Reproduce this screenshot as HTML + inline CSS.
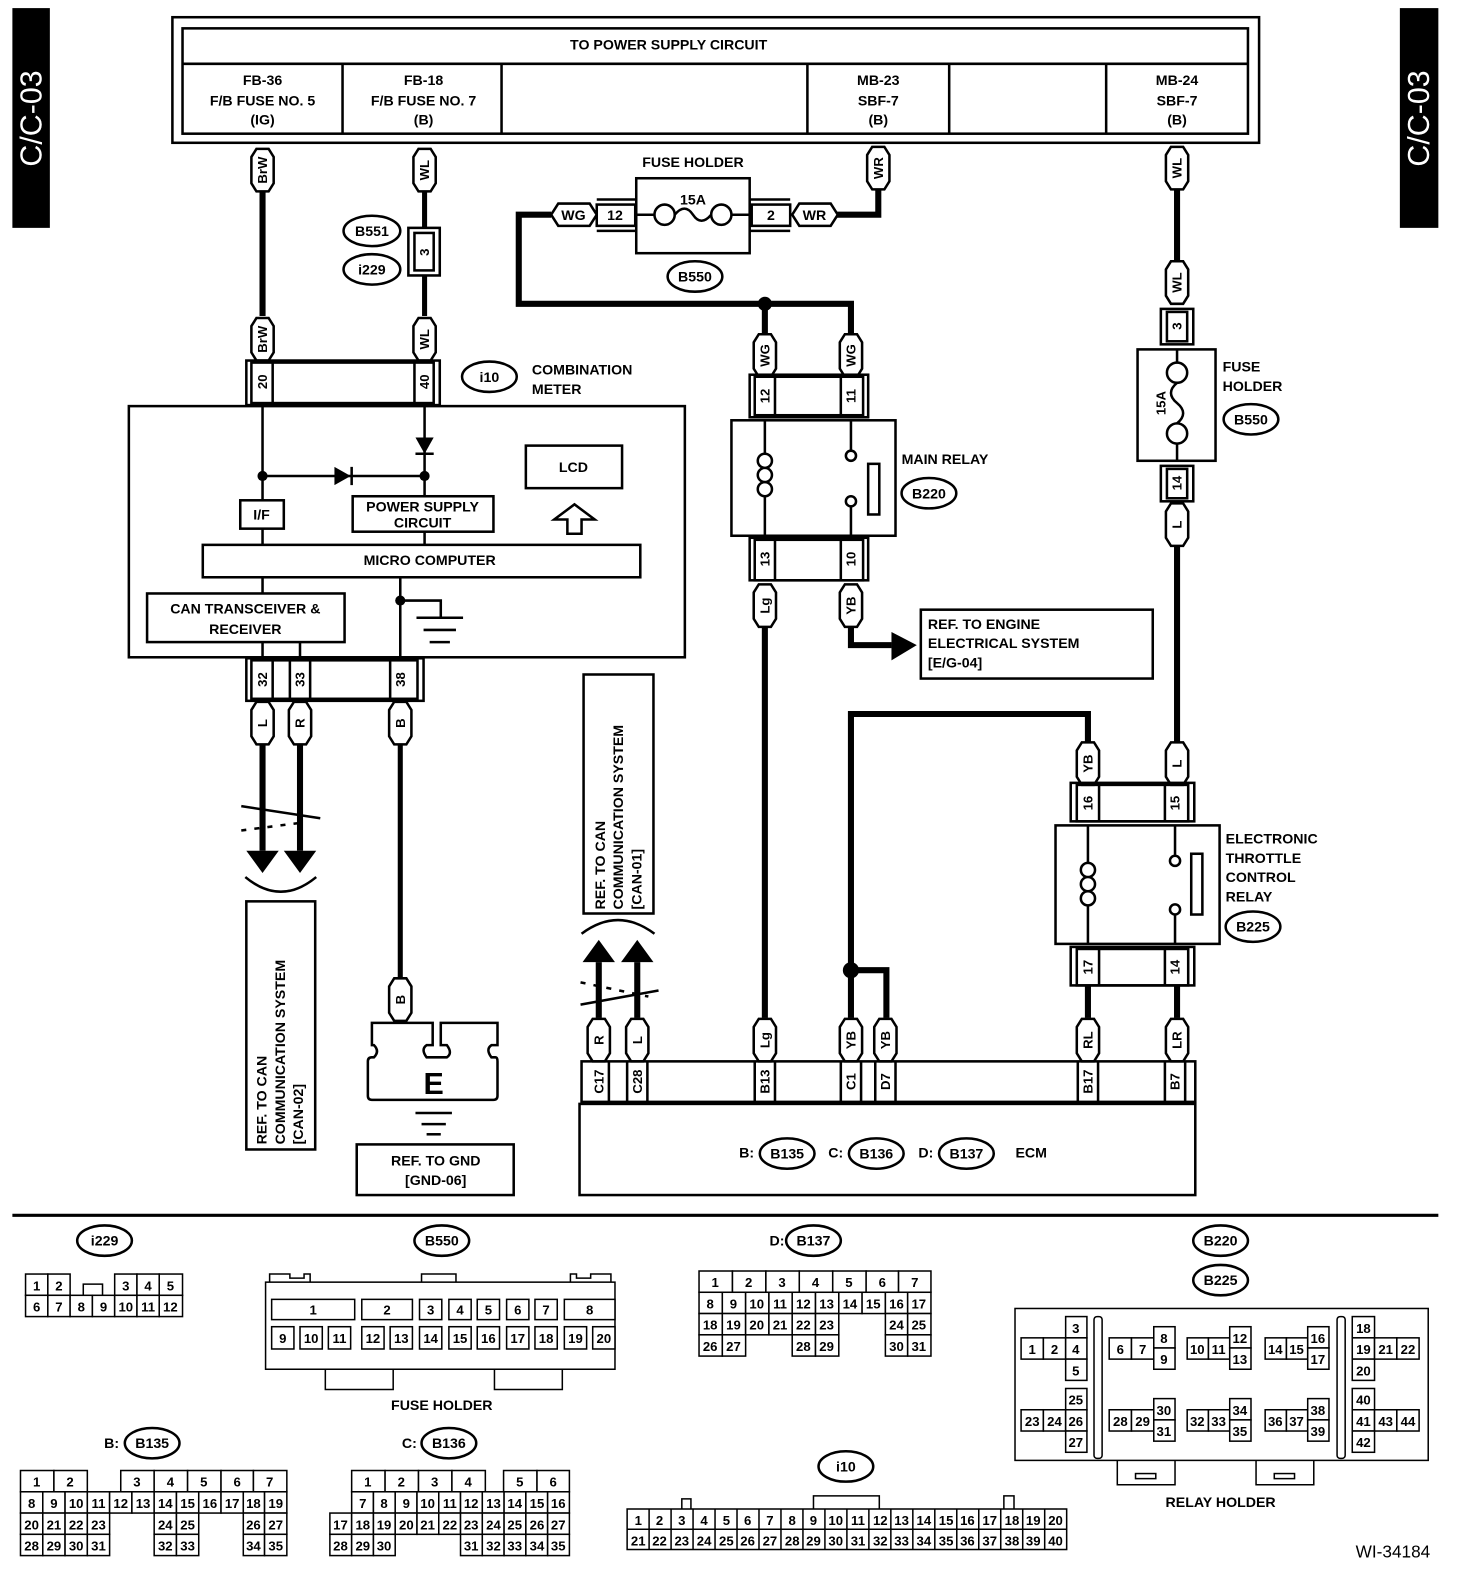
<!DOCTYPE html>
<html><head><meta charset="utf-8"><style>
html,body{margin:0;padding:0;background:#fff}
svg{display:block}
text{font-family:"Liberation Sans",sans-serif;font-weight:bold;fill:#000}
.t{font-size:14px;text-anchor:middle}
.s{font-size:13px;text-anchor:middle;font-weight:normal}
.v{font-size:13px;text-anchor:middle;dominant-baseline:central}
.l{font-size:14px;text-anchor:start}
.w{fill:none;stroke:#000;stroke-width:6}
.n{fill:none;stroke:#000;stroke-width:2.5}
.b{fill:#fff;stroke:#000;stroke-width:2.5}
.c{fill:#fff;stroke:#000;stroke-width:1.5}
</style></head><body>
<svg width="1472" height="1588" viewBox="0 0 1453 1568" xmlns="http://www.w3.org/2000/svg">
<defs>
<path id="pv" d="M-11,8 L-6,0 L6,0 L11,8 L11,34 L6,42 L-6,42 L-11,34 Z" fill="#fff" stroke="#000" stroke-width="2.5"/>
</defs>
<!-- side tabs -->
<rect x="12" y="8" width="37" height="217" fill="#000"/>
<text transform="translate(31,117) rotate(-90)" style="font-size:30px;font-weight:normal;fill:#fff;text-anchor:middle;dominant-baseline:central">C/C-03</text>
<rect x="1382" y="8" width="38" height="217" fill="#000"/>
<text transform="translate(1401,117) rotate(-90)" style="font-size:30px;font-weight:normal;fill:#fff;text-anchor:middle;dominant-baseline:central">C/C-03</text>

<!-- top box -->
<rect x="170" y="17" width="1073" height="124" class="b" stroke-width="3"/>
<rect x="180" y="28" width="1052" height="104" class="n" stroke-width="3"/>
<line x1="180" y1="63" x2="1232" y2="63" class="n" stroke-width="3"/>
<g class="n" stroke-width="3"><line x1="338" y1="63" x2="338" y2="132"/><line x1="495" y1="63" x2="495" y2="132"/><line x1="797" y1="63" x2="797" y2="132"/><line x1="937" y1="63" x2="937" y2="132"/><line x1="1092" y1="63" x2="1092" y2="132"/></g>
<text x="660" y="49" class="t">TO POWER SUPPLY CIRCUIT</text>
<text x="259" y="84" class="t">FB-36</text><text x="259" y="104" class="t">F/B FUSE NO. 5</text><text x="259" y="123" class="t">(IG)</text>
<text x="418" y="84" class="t">FB-18</text><text x="418" y="104" class="t">F/B FUSE NO. 7</text><text x="418" y="123" class="t">(B)</text>
<text x="867" y="84" class="t">MB-23</text><text x="867" y="104" class="t">SBF-7</text><text x="867" y="123" class="t">(B)</text>
<text x="1162" y="84" class="t">MB-24</text><text x="1162" y="104" class="t">SBF-7</text><text x="1162" y="123" class="t">(B)</text>

<!-- wires -->
<g class="w">
<line x1="259" y1="188" x2="259" y2="312"/>
<line x1="419" y1="188" x2="419" y2="312" stroke-width="5"/>
<polyline points="867,188 867,212 826,212"/>
<polyline points="544,212 512,212 512,300 840,300 840,330"/>
<line x1="755" y1="300" x2="755" y2="330"/>
<line x1="1162" y1="188" x2="1162" y2="258"/>
<line x1="755" y1="620" x2="755" y2="1005"/>
<polyline points="840,620 840,637 880,637"/>
<line x1="1162" y1="540" x2="1162" y2="733"/>
<polyline points="1074,733 1074,705 840,705 840,1005"/>
<polyline points="840,958 875,958 875,1005"/>
<line x1="1074" y1="973" x2="1074" y2="1005"/>
<line x1="1162" y1="973" x2="1162" y2="1005"/>
<line x1="259" y1="735" x2="259" y2="840"/>
<line x1="296" y1="735" x2="296" y2="840"/>
<line x1="395" y1="735" x2="395" y2="965" stroke-width="5"/>
<line x1="591" y1="950" x2="591" y2="1005"/>
<line x1="629" y1="950" x2="629" y2="1005"/>
</g>
<circle cx="755" cy="300" r="7"/>
<circle cx="840" cy="958" r="8"/>
<polygon points="880,624 905,637 880,652"/>
<polygon points="243,840 275,840 259,862"/><polygon points="280,840 312,840 296,862"/>
<polygon points="575,950 607,950 591,928"/><polygon points="613,950 645,950 629,928"/>
<path d="M242,866 Q277,895 312,866" class="n" stroke-width="2"/>
<path d="M574,922 Q610,895 646,922" class="n" stroke-width="2"/>
<g class="n" stroke-width="2"><line x1="238" y1="796" x2="316" y2="808"/><line x1="238" y1="820" x2="300" y2="812" stroke-dasharray="5,8"/>
<line x1="573" y1="992" x2="650" y2="978"/><line x1="573" y1="970" x2="640" y2="984" stroke-dasharray="5,8"/></g>

<!-- pills -->
<g>
<use href="#pv" x="259" y="147"/><text class="v" transform="translate(259,168) rotate(-90)">BrW</text>
<use href="#pv" x="419" y="147"/><text class="v" transform="translate(419,168) rotate(-90)">WL</text>
<use href="#pv" x="259" y="314"/><text class="v" transform="translate(259,335) rotate(-90)">BrW</text>
<use href="#pv" x="419" y="314"/><text class="v" transform="translate(419,335) rotate(-90)">WL</text>
<use href="#pv" x="867" y="145"/><text class="v" transform="translate(867,166) rotate(-90)">WR</text>
<use href="#pv" x="755" y="330"/><text class="v" transform="translate(755,351) rotate(-90)">WG</text>
<use href="#pv" x="840" y="330"/><text class="v" transform="translate(840,351) rotate(-90)">WG</text>
<use href="#pv" x="1162" y="145"/><text class="v" transform="translate(1162,166) rotate(-90)">WL</text>
<use href="#pv" x="1162" y="258"/><text class="v" transform="translate(1162,279) rotate(-90)">WL</text>
<use href="#pv" x="755" y="577"/><text class="v" transform="translate(755,598) rotate(-90)">Lg</text>
<use href="#pv" x="840" y="577"/><text class="v" transform="translate(840,598) rotate(-90)">YB</text>
<use href="#pv" x="1162" y="497"/><text class="v" transform="translate(1162,518) rotate(-90)">L</text>
<use href="#pv" x="1074" y="733"/><text class="v" transform="translate(1074,754) rotate(-90)">YB</text>
<use href="#pv" x="1162" y="733"/><text class="v" transform="translate(1162,754) rotate(-90)">L</text>
<use href="#pv" x="259" y="693"/><text class="v" transform="translate(259,714) rotate(-90)">L</text>
<use href="#pv" x="296" y="693"/><text class="v" transform="translate(296,714) rotate(-90)">R</text>
<use href="#pv" x="395" y="693"/><text class="v" transform="translate(395,714) rotate(-90)">B</text>
<use href="#pv" x="395" y="966"/><text class="v" transform="translate(395,987) rotate(-90)">B</text>
<use href="#pv" x="591" y="1006"/><text class="v" transform="translate(591,1027) rotate(-90)">R</text>
<use href="#pv" x="629" y="1006"/><text class="v" transform="translate(629,1027) rotate(-90)">L</text>
<use href="#pv" x="755" y="1006"/><text class="v" transform="translate(755,1027) rotate(-90)">Lg</text>
<use href="#pv" x="840" y="1006"/><text class="v" transform="translate(840,1027) rotate(-90)">YB</text>
<use href="#pv" x="874" y="1006"/><text class="v" transform="translate(874,1027) rotate(-90)">YB</text>
<use href="#pv" x="1074" y="1006"/><text class="v" transform="translate(1074,1027) rotate(-90)">RL</text>
<use href="#pv" x="1162" y="1006"/><text class="v" transform="translate(1162,1027) rotate(-90)">LR</text>
<path d="M544,212 L551,201 L582,201 L589,212 L582,223 L551,223 Z" class="b"/><text x="566" y="217" class="t">WG</text>
<path d="M782,212 L789,201 L820,201 L827,212 L820,223 L789,223 Z" class="b"/><text x="804" y="217" class="t">WR</text>
</g>

<!-- B551/i229 connector -->
<rect x="403" y="225" width="31" height="47" class="b"/><rect x="409" y="230" width="19" height="37" class="b"/>
<text class="v" transform="translate(419,249) rotate(-90)">3</text>
<ellipse cx="367" cy="228" rx="28" ry="15" class="b"/><text x="367" y="233" class="t">B551</text>
<ellipse cx="367" cy="266" rx="28" ry="15" class="b"/><text x="367" y="271" class="t">i229</text>

<!-- fuse holder top -->
<text x="684" y="165" class="t">FUSE HOLDER</text>
<rect x="628" y="176" width="112" height="74" class="b"/>
<rect x="589" y="202" width="38" height="21" class="b"/><text x="607" y="217" class="t">12</text>
<line x1="589" y1="197" x2="628" y2="197" class="n" stroke-width="2"/><line x1="589" y1="228" x2="628" y2="228" class="n" stroke-width="2"/>
<rect x="742" y="202" width="38" height="21" class="b"/><text x="761" y="217" class="t">2</text>
<line x1="740" y1="197" x2="780" y2="197" class="n" stroke-width="2"/><line x1="740" y1="228" x2="780" y2="228" class="n" stroke-width="2"/>
<g class="n" stroke-width="2"><line x1="628" y1="212" x2="646" y2="212"/><circle cx="656" cy="212" r="10"/><path d="M666,212 Q676,200 684,212 Q692,224 702,212"/><circle cx="712" cy="212" r="10"/><line x1="722" y1="212" x2="740" y2="212"/></g>
<text x="684" y="202" class="t">15A</text>
<ellipse cx="686" cy="273" rx="27" ry="15" class="b"/><text x="686" y="278" class="t">B550</text>

<!-- right fuse holder -->
<rect x="1146" y="305" width="32" height="35" class="b"/><rect x="1152" y="308" width="20" height="29" class="b"/><text class="v" transform="translate(1162,322) rotate(-90)">3</text>
<rect x="1123" y="345" width="77" height="110" class="b"/>
<g class="n" stroke-width="2"><line x1="1162" y1="345" x2="1162" y2="358"/><circle cx="1162" cy="368" r="10"/><path d="M1162,378 Q1150,388 1162,398 Q1174,408 1162,418"/><circle cx="1162" cy="428" r="10"/><line x1="1162" y1="438" x2="1162" y2="455"/></g>
<text class="v" transform="translate(1146,398) rotate(-90)">15A</text>
<text x="1207" y="367" class="l">FUSE</text><text x="1207" y="386" class="l">HOLDER</text>
<ellipse cx="1235" cy="414" rx="27" ry="15" class="b"/><text x="1235" y="419" class="t">B550</text>
<rect x="1146" y="460" width="32" height="35" class="b"/><rect x="1152" y="463" width="20" height="29" class="b"/><text class="v" transform="translate(1162,477) rotate(-90)">14</text>

<!-- main relay -->
<rect x="740" y="370" width="117" height="42" class="n"/><rect x="745" y="372" width="107" height="38" class="n"/>
<line x1="765" y1="372" x2="765" y2="410" class="n"/><line x1="830" y1="372" x2="830" y2="410" class="n"/>
<text class="v" transform="translate(755,391) rotate(-90)">12</text><text class="v" transform="translate(840,391) rotate(-90)">11</text>
<rect x="722" y="415" width="162" height="114" class="b"/>
<g class="n" stroke-width="2"><line x1="755" y1="415" x2="755" y2="448"/><path d="M755,448 a7,7 0 0 0 0,14 a7,7 0 0 0 0,14 a7,7 0 0 0 0,14 M755,448 a7,7 0 0 1 0,14 a7,7 0 0 1 0,14 a7,7 0 0 1 0,14"/><line x1="755" y1="490" x2="755" y2="529"/>
<line x1="840" y1="415" x2="840" y2="444"/><circle cx="840" cy="450" r="5"/><circle cx="840" cy="495" r="5"/><line x1="840" y1="500" x2="840" y2="529"/>
<rect x="857" y="458" width="11" height="50"/></g>
<text x="890" y="458" class="l">MAIN RELAY</text>
<ellipse cx="917" cy="487" rx="27" ry="15" class="b"/><text x="917" y="492" class="t">B220</text>
<rect x="740" y="531" width="117" height="42" class="n"/><rect x="745" y="533" width="107" height="40" class="n"/>
<line x1="765" y1="533" x2="765" y2="573" class="n"/><line x1="830" y1="533" x2="830" y2="573" class="n"/>
<text class="v" transform="translate(755,552) rotate(-90)">13</text><text class="v" transform="translate(840,552) rotate(-90)">10</text>

<rect x="909" y="602" width="229" height="68" class="b"/>
<text x="916" y="621" class="l">REF. TO ENGINE</text><text x="916" y="640" class="l">ELECTRICAL SYSTEM</text><text x="916" y="659" class="l">[E/G-04]</text>

<!-- ETC relay -->
<rect x="1057" y="773" width="122" height="38" class="n"/><rect x="1063" y="775" width="110" height="36" class="n"/>
<line x1="1085" y1="775" x2="1085" y2="811" class="n"/><line x1="1150" y1="775" x2="1150" y2="811" class="n"/>
<text class="v" transform="translate(1074,793) rotate(-90)">16</text><text class="v" transform="translate(1160,793) rotate(-90)">15</text>
<rect x="1042" y="815" width="162" height="117" class="b"/>
<g class="n" stroke-width="2"><line x1="1074" y1="815" x2="1074" y2="852"/><path d="M1074,852 a7,7 0 0 0 0,14 a7,7 0 0 0 0,14 a7,7 0 0 0 0,14 M1074,852 a7,7 0 0 1 0,14 a7,7 0 0 1 0,14 a7,7 0 0 1 0,14"/><line x1="1074" y1="894" x2="1074" y2="932"/>
<line x1="1160" y1="815" x2="1160" y2="844"/><circle cx="1160" cy="850" r="5"/><circle cx="1160" cy="898" r="5"/><line x1="1160" y1="903" x2="1160" y2="932"/>
<rect x="1176" y="843" width="11" height="60"/></g>
<text x="1210" y="833" class="l">ELECTRONIC</text><text x="1210" y="852" class="l">THROTTLE</text><text x="1210" y="871" class="l">CONTROL</text><text x="1210" y="890" class="l">RELAY</text>
<ellipse cx="1237" cy="915" rx="27" ry="15" class="b"/><text x="1237" y="920" class="t">B225</text>
<rect x="1057" y="935" width="122" height="38" class="n"/><rect x="1063" y="937" width="110" height="36" class="n"/>
<line x1="1085" y1="937" x2="1085" y2="973" class="n"/><line x1="1150" y1="937" x2="1150" y2="973" class="n"/>
<text class="v" transform="translate(1074,955) rotate(-90)">17</text><text class="v" transform="translate(1160,955) rotate(-90)">14</text>

<!-- ECM -->
<rect x="574" y="1048" width="606" height="40" class="n"/>
<g class="n"><line x1="601" y1="1048" x2="601" y2="1088"/><line x1="619" y1="1048" x2="619" y2="1088"/><line x1="639" y1="1048" x2="639" y2="1088"/><line x1="745" y1="1048" x2="745" y2="1088"/><line x1="765" y1="1048" x2="765" y2="1088"/><line x1="830" y1="1048" x2="830" y2="1088"/><line x1="850" y1="1048" x2="850" y2="1088"/><line x1="864" y1="1048" x2="864" y2="1088"/><line x1="884" y1="1048" x2="884" y2="1088"/><line x1="1064" y1="1048" x2="1064" y2="1088"/><line x1="1084" y1="1048" x2="1084" y2="1088"/><line x1="1150" y1="1048" x2="1150" y2="1088"/><line x1="1170" y1="1048" x2="1170" y2="1088"/></g>
<text class="v" transform="translate(591,1068) rotate(-90)">C17</text><text class="v" transform="translate(629,1068) rotate(-90)">C28</text><text class="v" transform="translate(755,1068) rotate(-90)">B13</text><text class="v" transform="translate(840,1068) rotate(-90)">C1</text><text class="v" transform="translate(874,1068) rotate(-90)">D7</text><text class="v" transform="translate(1074,1068) rotate(-90)">B17</text><text class="v" transform="translate(1160,1068) rotate(-90)">B7</text>
<rect x="572" y="1090" width="608" height="90" class="b"/>
<text x="737" y="1143" class="t">B:</text><ellipse cx="777" cy="1139" rx="27" ry="15" class="b"/><text x="777" y="1144" class="t">B135</text>
<text x="825" y="1143" class="t">C:</text><ellipse cx="865" cy="1139" rx="27" ry="15" class="b"/><text x="865" y="1144" class="t">B136</text>
<text x="914" y="1143" class="t">D:</text><ellipse cx="954" cy="1139" rx="27" ry="15" class="b"/><text x="954" y="1144" class="t">B137</text>
<text x="1018" y="1143" class="t">ECM</text>

<rect x="576" y="666" width="69" height="236" class="b"/>
<text transform="translate(597,898) rotate(-90)" class="l">REF. TO CAN</text><text transform="translate(615,898) rotate(-90)" class="l">COMMUNICATION SYSTEM</text><text transform="translate(633,898) rotate(-90)" class="l">[CAN-01]</text>

<!-- combination meter -->
<rect x="243" y="356" width="191" height="44" class="n"/><rect x="248" y="358" width="180" height="40" class="n"/>
<line x1="269" y1="358" x2="269" y2="398" class="n"/><line x1="409" y1="358" x2="409" y2="398" class="n"/>
<text class="v" transform="translate(259,377) rotate(-90)">20</text><text class="v" transform="translate(419,377) rotate(-90)">40</text>
<ellipse cx="483" cy="372" rx="27" ry="15" class="b"/><text x="483" y="377" class="t">i10</text>
<text x="525" y="370" class="l">COMBINATION</text><text x="525" y="389" class="l">METER</text>
<rect x="127" y="401" width="549" height="248" class="b"/>
<g class="n" stroke-width="2.5">
<line x1="259" y1="401" x2="259" y2="494"/><line x1="259" y1="522" x2="259" y2="538"/>
<line x1="419" y1="401" x2="419" y2="490"/><line x1="419" y1="525" x2="419" y2="538"/>
<line x1="259" y1="470" x2="419" y2="470"/>
<line x1="259" y1="570" x2="259" y2="586"/>
<line x1="259" y1="634" x2="259" y2="652"/><line x1="296" y1="634" x2="296" y2="652"/>
<line x1="395" y1="570" x2="395" y2="652"/>
<polyline points="395,593 435,593 435,610"/>
<line x1="411" y1="610" x2="457" y2="610"/><line x1="418" y1="622" x2="450" y2="622"/><line x1="424" y1="634" x2="444" y2="634"/>
<line x1="410" y1="448" x2="428" y2="448"/><line x1="347" y1="461" x2="347" y2="479"/>
</g>
<polygon points="410,432 428,432 419,448"/><polygon points="330,461 330,479 346,470"/>
<circle cx="259" cy="470" r="5"/><circle cx="419" cy="470" r="5"/><circle cx="395" cy="593" r="5"/>
<rect x="237" y="494" width="43" height="28" class="b"/><text x="258" y="513" class="t">I/F</text>
<rect x="348" y="490" width="139" height="35" class="b"/><text x="417" y="505" class="t">POWER SUPPLY</text><text x="417" y="521" class="t">CIRCUIT</text>
<rect x="519" y="440" width="95" height="42" class="b"/><text x="566" y="466" class="t">LCD</text>
<polygon points="560,527 574,527 574,513 587,513 567,498 547,513 560,513" class="b" stroke-width="2"/>
<rect x="200" y="538" width="432" height="32" class="b"/><text x="424" y="558" class="t">MICRO COMPUTER</text>
<rect x="145" y="586" width="195" height="48" class="b"/><text x="242" y="606" class="t">CAN TRANSCEIVER &amp;</text><text x="242" y="626" class="t">RECEIVER</text>
<rect x="243" y="650" width="175" height="42" class="n"/><rect x="248" y="652" width="164" height="38" class="n"/>
<line x1="269" y1="652" x2="269" y2="690" class="n"/><line x1="286" y1="652" x2="286" y2="690" class="n"/><line x1="306" y1="652" x2="306" y2="690" class="n"/><line x1="385" y1="652" x2="385" y2="690" class="n"/>
<text class="v" transform="translate(259,671) rotate(-90)">32</text><text class="v" transform="translate(296,671) rotate(-90)">33</text><text class="v" transform="translate(395,671) rotate(-90)">38</text>

<rect x="243" y="890" width="68" height="245" class="b"/>
<text transform="translate(263,1130) rotate(-90)" class="l">REF. TO CAN</text><text transform="translate(281,1130) rotate(-90)" class="l">COMMUNICATION SYSTEM</text><text transform="translate(299,1130) rotate(-90)" class="l">[CAN-02]</text>

<!-- ground terminal -->
<path d="M367,1010 h60 v22 h-6 q-6,4 0,12 h20 q6,-4 0,-12 h-6 v-22 h56 v22 h-6 q-6,4 0,12 h4 q2,0 2,4 v34 q0,4 -4,4 h-120 q-4,0 -4,-4 v-34 q0,-4 4,-4 h2 q6,-6 0,-12 h-2 z" class="b"/>
<text x="428" y="1080" style="font-size:30px;text-anchor:middle">E</text>
<g class="n"><line x1="410" y1="1099" x2="446" y2="1099"/><line x1="416" y1="1110" x2="440" y2="1110"/><line x1="421" y1="1120" x2="435" y2="1120"/></g>
<rect x="352" y="1130" width="155" height="50" class="b"/><text x="430" y="1151" class="t">REF. TO GND</text><text x="430" y="1170" class="t">[GND-06]</text>

<line x1="12" y1="1200" x2="1420" y2="1200" stroke="#000" stroke-width="3"/>

<!-- i229 -->
<ellipse cx="103" cy="1225" rx="27" ry="15" class="b"/><text x="103" y="1230" class="t">i229</text>
<g class="c">
<rect x="25" y="1258" width="22" height="21"/><rect x="47" y="1258" width="22" height="21"/>
<rect x="113" y="1258" width="22" height="21"/><rect x="135" y="1258" width="22" height="21"/><rect x="157" y="1258" width="23" height="21"/>
<rect x="25" y="1279" width="22" height="21"/><rect x="47" y="1279" width="22" height="21"/><rect x="69" y="1279" width="22" height="21"/><rect x="91" y="1279" width="22" height="21"/><rect x="113" y="1279" width="22" height="21"/><rect x="135" y="1279" width="22" height="21"/><rect x="157" y="1279" width="23" height="21"/>
<polyline points="82,1279 82,1268 101,1268 101,1279" fill="none"/>
</g>
<g class="s"><text x="36" y="1274">1</text><text x="58" y="1274">2</text><text x="124" y="1274">3</text><text x="146" y="1274">4</text><text x="168" y="1274">5</text>
<text x="36" y="1295">6</text><text x="58" y="1295">7</text><text x="80" y="1295">8</text><text x="102" y="1295">9</text><text x="124" y="1295">10</text><text x="146" y="1295">11</text><text x="168" y="1295">12</text></g>

<!-- B550 -->
<ellipse cx="436" cy="1225" rx="27" ry="15" class="b"/><text x="436" y="1230" class="t">B550</text>
<rect x="262" y="1266" width="345" height="86" class="c"/>
<g class="c" fill="none">
<polyline points="266,1266 266,1258 286,1258 286,1262 300,1262 300,1258 306,1258 306,1266" fill="none"/>
<polyline points="416,1266 416,1258 450,1258 450,1266" fill="none"/>
<polyline points="563,1266 563,1258 569,1258 569,1262 583,1262 583,1258 603,1258 603,1266" fill="none"/>
<polyline points="321,1352 321,1372 388,1372 388,1352" fill="none"/><polyline points="488,1352 488,1372 555,1372 555,1352" fill="none"/>
</g>
<g class="c">
<rect x="268" y="1283" width="82" height="20"/><rect x="357" y="1283" width="50" height="20"/><rect x="414" y="1283" width="22" height="20"/><rect x="443" y="1283" width="22" height="20"/><rect x="471" y="1283" width="22" height="20"/><rect x="500" y="1283" width="22" height="20"/><rect x="528" y="1283" width="22" height="20"/><rect x="557" y="1283" width="50" height="20"/>
<rect x="268" y="1310" width="22" height="22"/><rect x="296" y="1310" width="22" height="22"/><rect x="324" y="1310" width="22" height="22"/><rect x="357" y="1310" width="22" height="22"/><rect x="385" y="1310" width="22" height="22"/><rect x="414" y="1310" width="22" height="22"/><rect x="443" y="1310" width="22" height="22"/><rect x="471" y="1310" width="22" height="22"/><rect x="500" y="1310" width="22" height="22"/><rect x="528" y="1310" width="22" height="22"/><rect x="557" y="1310" width="22" height="22"/><rect x="585" y="1310" width="22" height="22"/>
</g>
<g class="s"><text x="309" y="1298">1</text><text x="382" y="1298">2</text><text x="425" y="1298">3</text><text x="454" y="1298">4</text><text x="482" y="1298">5</text><text x="511" y="1298">6</text><text x="539" y="1298">7</text><text x="582" y="1298">8</text>
<text x="279" y="1326">9</text><text x="307" y="1326">10</text><text x="335" y="1326">11</text><text x="368" y="1326">12</text><text x="396" y="1326">13</text><text x="425" y="1326">14</text><text x="454" y="1326">15</text><text x="482" y="1326">16</text><text x="511" y="1326">17</text><text x="539" y="1326">18</text><text x="568" y="1326">19</text><text x="596" y="1326">20</text></g>
<text x="436" y="1392" class="t">FUSE HOLDER</text>

<!-- D:B137 -->
<text x="767" y="1230" class="t">D:</text><ellipse cx="803" cy="1225" rx="27" ry="15" class="b"/><text x="803" y="1230" class="t">B137</text>
<g class="c">
<rect x="690" y="1255" width="33" height="21"/><rect x="723" y="1255" width="33" height="21"/><rect x="756" y="1255" width="33" height="21"/><rect x="789" y="1255" width="33" height="21"/><rect x="822" y="1255" width="33" height="21"/><rect x="855" y="1255" width="32" height="21"/><rect x="887" y="1255" width="32" height="21"/>
<rect x="690" y="1276" width="23" height="21"/><rect x="713" y="1276" width="23" height="21"/><rect x="736" y="1276" width="23" height="21"/><rect x="759" y="1276" width="23" height="21"/><rect x="782" y="1276" width="23" height="21"/><rect x="805" y="1276" width="23" height="21"/><rect x="828" y="1276" width="23" height="21"/><rect x="851" y="1276" width="23" height="21"/><rect x="874" y="1276" width="22" height="21"/><rect x="896" y="1276" width="23" height="21"/>
<rect x="690" y="1297" width="23" height="21"/><rect x="713" y="1297" width="23" height="21"/><rect x="736" y="1297" width="23" height="21"/><rect x="759" y="1297" width="23" height="21"/><rect x="782" y="1297" width="23" height="21"/><rect x="805" y="1297" width="23" height="21"/><rect x="874" y="1297" width="22" height="21"/><rect x="896" y="1297" width="23" height="21"/>
<rect x="690" y="1318" width="23" height="21"/><rect x="713" y="1318" width="23" height="21"/><rect x="782" y="1318" width="23" height="21"/><rect x="805" y="1318" width="23" height="21"/><rect x="874" y="1318" width="22" height="21"/><rect x="896" y="1318" width="23" height="21"/>
</g>
<g class="s"><text x="706" y="1271">1</text><text x="739" y="1271">2</text><text x="772" y="1271">3</text><text x="805" y="1271">4</text><text x="838" y="1271">5</text><text x="871" y="1271">6</text><text x="903" y="1271">7</text>
<text x="701" y="1292">8</text><text x="724" y="1292">9</text><text x="747" y="1292">10</text><text x="770" y="1292">11</text><text x="793" y="1292">12</text><text x="816" y="1292">13</text><text x="839" y="1292">14</text><text x="862" y="1292">15</text><text x="885" y="1292">16</text><text x="907" y="1292">17</text>
<text x="701" y="1313">18</text><text x="724" y="1313">19</text><text x="747" y="1313">20</text><text x="770" y="1313">21</text><text x="793" y="1313">22</text><text x="816" y="1313">23</text><text x="885" y="1313">24</text><text x="907" y="1313">25</text>
<text x="701" y="1334">26</text><text x="724" y="1334">27</text><text x="793" y="1334">28</text><text x="816" y="1334">29</text><text x="885" y="1334">30</text><text x="907" y="1334">31</text></g>

<!-- B:B135 -->
<text x="110" y="1430" class="t">B:</text><ellipse cx="150" cy="1425" rx="27" ry="15" class="b"/><text x="150" y="1430" class="t">B135</text>
<g class="c">
<rect x="20" y="1452" width="33" height="21"/><rect x="53" y="1452" width="33" height="21"/>
<rect x="119" y="1452" width="33" height="21"/><rect x="152" y="1452" width="33" height="21"/><rect x="185" y="1452" width="33" height="21"/><rect x="218" y="1452" width="32" height="21"/><rect x="250" y="1452" width="33" height="21"/>
<rect x="20" y="1473" width="22" height="21"/><rect x="42" y="1473" width="22" height="21"/><rect x="64" y="1473" width="22" height="21"/><rect x="86" y="1473" width="22" height="21"/><rect x="108" y="1473" width="22" height="21"/><rect x="130" y="1473" width="22" height="21"/><rect x="152" y="1473" width="22" height="21"/><rect x="174" y="1473" width="22" height="21"/><rect x="196" y="1473" width="22" height="21"/><rect x="218" y="1473" width="22" height="21"/><rect x="240" y="1473" width="21" height="21"/><rect x="261" y="1473" width="22" height="21"/>
<rect x="20" y="1494" width="22" height="21"/><rect x="42" y="1494" width="22" height="21"/><rect x="64" y="1494" width="22" height="21"/><rect x="86" y="1494" width="22" height="21"/><rect x="152" y="1494" width="22" height="21"/><rect x="174" y="1494" width="22" height="21"/><rect x="240" y="1494" width="21" height="21"/><rect x="261" y="1494" width="22" height="21"/>
<rect x="20" y="1515" width="22" height="21"/><rect x="42" y="1515" width="22" height="21"/><rect x="64" y="1515" width="22" height="21"/><rect x="86" y="1515" width="22" height="21"/><rect x="152" y="1515" width="22" height="21"/><rect x="174" y="1515" width="22" height="21"/><rect x="240" y="1515" width="21" height="21"/><rect x="261" y="1515" width="22" height="21"/>
</g>
<g class="s"><text x="36" y="1468">1</text><text x="69" y="1468">2</text><text x="135" y="1468">3</text><text x="168" y="1468">4</text><text x="201" y="1468">5</text><text x="234" y="1468">6</text><text x="266" y="1468">7</text>
<text x="31" y="1489">8</text><text x="53" y="1489">9</text><text x="75" y="1489">10</text><text x="97" y="1489">11</text><text x="119" y="1489">12</text><text x="141" y="1489">13</text><text x="163" y="1489">14</text><text x="185" y="1489">15</text><text x="207" y="1489">16</text><text x="229" y="1489">17</text><text x="250" y="1489">18</text><text x="272" y="1489">19</text>
<text x="31" y="1510">20</text><text x="53" y="1510">21</text><text x="75" y="1510">22</text><text x="97" y="1510">23</text><text x="163" y="1510">24</text><text x="185" y="1510">25</text><text x="250" y="1510">26</text><text x="272" y="1510">27</text>
<text x="31" y="1531">28</text><text x="53" y="1531">29</text><text x="75" y="1531">30</text><text x="97" y="1531">31</text><text x="163" y="1531">32</text><text x="185" y="1531">33</text><text x="250" y="1531">34</text><text x="272" y="1531">35</text></g>

<!-- C:B136 -->
<text x="404" y="1430" class="t">C:</text><ellipse cx="443" cy="1425" rx="27" ry="15" class="b"/><text x="443" y="1430" class="t">B136</text>
<g class="c">
<rect x="347" y="1452" width="33" height="21"/><rect x="380" y="1452" width="33" height="21"/><rect x="413" y="1452" width="33" height="21"/><rect x="446" y="1452" width="33" height="21"/><rect x="497" y="1452" width="33" height="21"/><rect x="530" y="1452" width="32" height="21"/>
</g>
<g class="c">
<rect x="347" y="1473" width="21.5" height="21"/><rect x="368.5" y="1473" width="21.5" height="21"/><rect x="390" y="1473" width="21.5" height="21"/><rect x="411.5" y="1473" width="21.5" height="21"/><rect x="433" y="1473" width="21.5" height="21"/><rect x="454.5" y="1473" width="21.5" height="21"/><rect x="476" y="1473" width="21.5" height="21"/><rect x="497.5" y="1473" width="21.5" height="21"/><rect x="519" y="1473" width="21.5" height="21"/><rect x="540.5" y="1473" width="21.5" height="21"/>
<rect x="325.5" y="1494" width="21.5" height="21"/><rect x="347" y="1494" width="21.5" height="21"/><rect x="368.5" y="1494" width="21.5" height="21"/><rect x="390" y="1494" width="21.5" height="21"/><rect x="411.5" y="1494" width="21.5" height="21"/><rect x="433" y="1494" width="21.5" height="21"/><rect x="454.5" y="1494" width="21.5" height="21"/><rect x="476" y="1494" width="21.5" height="21"/><rect x="497.5" y="1494" width="21.5" height="21"/><rect x="519" y="1494" width="21.5" height="21"/><rect x="540.5" y="1494" width="21.5" height="21"/>
<rect x="325.5" y="1515" width="21.5" height="21"/><rect x="347" y="1515" width="21.5" height="21"/><rect x="368.5" y="1515" width="21.5" height="21"/><rect x="454.5" y="1515" width="21.5" height="21"/><rect x="476" y="1515" width="21.5" height="21"/><rect x="497.5" y="1515" width="21.5" height="21"/><rect x="519" y="1515" width="21.5" height="21"/><rect x="540.5" y="1515" width="21.5" height="21"/>
</g>
<g class="s"><text x="363" y="1468">1</text><text x="396" y="1468">2</text><text x="429" y="1468">3</text><text x="462" y="1468">4</text><text x="513" y="1468">5</text><text x="546" y="1468">6</text>
<text x="358" y="1489">7</text><text x="379" y="1489">8</text><text x="401" y="1489">9</text><text x="422" y="1489">10</text><text x="444" y="1489">11</text><text x="465" y="1489">12</text><text x="487" y="1489">13</text><text x="508" y="1489">14</text><text x="530" y="1489">15</text><text x="551" y="1489">16</text>
<text x="336" y="1510">17</text><text x="358" y="1510">18</text><text x="379" y="1510">19</text><text x="401" y="1510">20</text><text x="422" y="1510">21</text><text x="444" y="1510">22</text><text x="465" y="1510">23</text><text x="487" y="1510">24</text><text x="508" y="1510">25</text><text x="530" y="1510">26</text><text x="551" y="1510">27</text>
<text x="336" y="1531">28</text><text x="358" y="1531">29</text><text x="379" y="1531">30</text><text x="465" y="1531">31</text><text x="487" y="1531">32</text><text x="508" y="1531">33</text><text x="530" y="1531">34</text><text x="551" y="1531">35</text></g>

<!-- i10 -->
<ellipse cx="835" cy="1448" rx="27" ry="15" class="b"/><text x="835" y="1453" class="t">i10</text>
<g class="c" fill="none"><polyline points="673,1490 673,1480 682,1480 682,1490" fill="none"/><polyline points="803,1490 803,1477 868,1477 868,1490" fill="none"/><polyline points="991,1490 991,1477 1001,1477 1001,1490" fill="none"/></g>
<rect x="619" y="1490" width="434" height="40" class="c"/>
<g class="c" stroke-width="1.5">
<line x1="619" y1="1510" x2="1053" y2="1510"/>
<line x1="640.7" y1="1490" x2="640.7" y2="1530"/><line x1="662.4" y1="1490" x2="662.4" y2="1530"/><line x1="684.1" y1="1490" x2="684.1" y2="1530"/><line x1="705.8" y1="1490" x2="705.8" y2="1530"/><line x1="727.5" y1="1490" x2="727.5" y2="1530"/><line x1="749.2" y1="1490" x2="749.2" y2="1530"/><line x1="770.9" y1="1490" x2="770.9" y2="1530"/><line x1="792.6" y1="1490" x2="792.6" y2="1530"/><line x1="814.3" y1="1490" x2="814.3" y2="1530"/><line x1="836" y1="1490" x2="836" y2="1530"/><line x1="857.7" y1="1490" x2="857.7" y2="1530"/><line x1="879.4" y1="1490" x2="879.4" y2="1530"/><line x1="901.1" y1="1490" x2="901.1" y2="1530"/><line x1="922.8" y1="1490" x2="922.8" y2="1530"/><line x1="944.5" y1="1490" x2="944.5" y2="1530"/><line x1="966.2" y1="1490" x2="966.2" y2="1530"/><line x1="987.9" y1="1490" x2="987.9" y2="1530"/><line x1="1009.6" y1="1490" x2="1009.6" y2="1530"/><line x1="1031.3" y1="1490" x2="1031.3" y2="1530"/>
</g>
<g class="s"><text x="630" y="1506">1</text><text x="651" y="1506">2</text><text x="673" y="1506">3</text><text x="695" y="1506">4</text><text x="717" y="1506">5</text><text x="738" y="1506">6</text><text x="760" y="1506">7</text><text x="782" y="1506">8</text><text x="803" y="1506">9</text><text x="825" y="1506">10</text><text x="847" y="1506">11</text><text x="869" y="1506">12</text><text x="890" y="1506">13</text><text x="912" y="1506">14</text><text x="934" y="1506">15</text><text x="955" y="1506">16</text><text x="977" y="1506">17</text><text x="999" y="1506">18</text><text x="1020" y="1506">19</text><text x="1042" y="1506">20</text>
<text x="630" y="1526">21</text><text x="651" y="1526">22</text><text x="673" y="1526">23</text><text x="695" y="1526">24</text><text x="717" y="1526">25</text><text x="738" y="1526">26</text><text x="760" y="1526">27</text><text x="782" y="1526">28</text><text x="803" y="1526">29</text><text x="825" y="1526">30</text><text x="847" y="1526">31</text><text x="869" y="1526">32</text><text x="890" y="1526">33</text><text x="912" y="1526">34</text><text x="934" y="1526">35</text><text x="955" y="1526">36</text><text x="977" y="1526">37</text><text x="999" y="1526">38</text><text x="1020" y="1526">39</text><text x="1042" y="1526">40</text></g>

<!-- relay holder -->
<ellipse cx="1205" cy="1225" rx="27" ry="15" class="b"/><text x="1205" y="1230" class="t">B220</text>
<ellipse cx="1205" cy="1264" rx="27" ry="15" class="b"/><text x="1205" y="1269" class="t">B225</text>
<rect x="1002" y="1292" width="408" height="150" class="c"/>
<g class="c" fill="none"><polyline points="1103,1442 1103,1466 1160,1466 1160,1442" fill="none"/><polyline points="1240,1442 1240,1466 1297,1466 1297,1442" fill="none"/>
<rect x="1121" y="1455" width="20" height="5"/><rect x="1258" y="1455" width="20" height="5"/></g>
<rect x="1080" y="1300" width="8" height="140" rx="3" class="c"/><rect x="1320" y="1300" width="8" height="140" rx="3" class="c"/>
<g class="c">
<rect x="1008" y="1321" width="22" height="21"/><rect x="1030" y="1321" width="22" height="21"/><rect x="1052" y="1300" width="21" height="21"/><rect x="1052" y="1321" width="21" height="21"/><rect x="1052" y="1342" width="21" height="21"/>
<rect x="1095" y="1321" width="22" height="21"/><rect x="1117" y="1321" width="22" height="21"/><rect x="1139" y="1310" width="21" height="21"/><rect x="1139" y="1331" width="21" height="21"/>
<rect x="1172" y="1321" width="21" height="21"/><rect x="1193" y="1321" width="21" height="21"/><rect x="1214" y="1310" width="21" height="21"/><rect x="1214" y="1331" width="21" height="21"/>
<rect x="1249" y="1321" width="21" height="21"/><rect x="1270" y="1321" width="21" height="21"/><rect x="1291" y="1310" width="21" height="21"/><rect x="1291" y="1331" width="21" height="21"/>
<rect x="1335" y="1300" width="22" height="21"/><rect x="1335" y="1321" width="22" height="21"/><rect x="1335" y="1342" width="22" height="21"/><rect x="1357" y="1321" width="22" height="21"/><rect x="1379" y="1321" width="22" height="21"/>
<rect x="1008" y="1392" width="22" height="21"/><rect x="1030" y="1392" width="22" height="21"/><rect x="1052" y="1371" width="21" height="21"/><rect x="1052" y="1392" width="21" height="21"/><rect x="1052" y="1413" width="21" height="21"/>
<rect x="1095" y="1392" width="22" height="21"/><rect x="1117" y="1392" width="22" height="21"/><rect x="1139" y="1381" width="21" height="21"/><rect x="1139" y="1402" width="21" height="21"/>
<rect x="1172" y="1392" width="21" height="21"/><rect x="1193" y="1392" width="21" height="21"/><rect x="1214" y="1381" width="21" height="21"/><rect x="1214" y="1402" width="21" height="21"/>
<rect x="1249" y="1392" width="21" height="21"/><rect x="1270" y="1392" width="21" height="21"/><rect x="1291" y="1381" width="21" height="21"/><rect x="1291" y="1402" width="21" height="21"/>
<rect x="1335" y="1371" width="22" height="21"/><rect x="1335" y="1392" width="22" height="21"/><rect x="1335" y="1413" width="22" height="21"/><rect x="1357" y="1392" width="22" height="21"/><rect x="1379" y="1392" width="22" height="21"/>
</g>
<g class="s"><text x="1019" y="1337">1</text><text x="1041" y="1337">2</text><text x="1062" y="1316">3</text><text x="1062" y="1337">4</text><text x="1062" y="1358">5</text>
<text x="1106" y="1337">6</text><text x="1128" y="1337">7</text><text x="1149" y="1326">8</text><text x="1149" y="1347">9</text>
<text x="1182" y="1337">10</text><text x="1203" y="1337">11</text><text x="1224" y="1326">12</text><text x="1224" y="1347">13</text>
<text x="1259" y="1337">14</text><text x="1280" y="1337">15</text><text x="1301" y="1326">16</text><text x="1301" y="1347">17</text>
<text x="1346" y="1316">18</text><text x="1346" y="1337">19</text><text x="1346" y="1358">20</text><text x="1368" y="1337">21</text><text x="1390" y="1337">22</text>
<text x="1019" y="1408">23</text><text x="1041" y="1408">24</text><text x="1062" y="1387">25</text><text x="1062" y="1408">26</text><text x="1062" y="1429">27</text>
<text x="1106" y="1408">28</text><text x="1128" y="1408">29</text><text x="1149" y="1397">30</text><text x="1149" y="1418">31</text>
<text x="1182" y="1408">32</text><text x="1203" y="1408">33</text><text x="1224" y="1397">34</text><text x="1224" y="1418">35</text>
<text x="1259" y="1408">36</text><text x="1280" y="1408">37</text><text x="1301" y="1397">38</text><text x="1301" y="1418">39</text>
<text x="1346" y="1387">40</text><text x="1346" y="1408">41</text><text x="1346" y="1429">42</text><text x="1368" y="1408">43</text><text x="1390" y="1408">44</text></g>
<text x="1205" y="1488" class="t">RELAY HOLDER</text>

<text x="1412" y="1538" style="font-size:17px;font-weight:normal;text-anchor:end">WI-34184</text>
</svg>
</body></html>
